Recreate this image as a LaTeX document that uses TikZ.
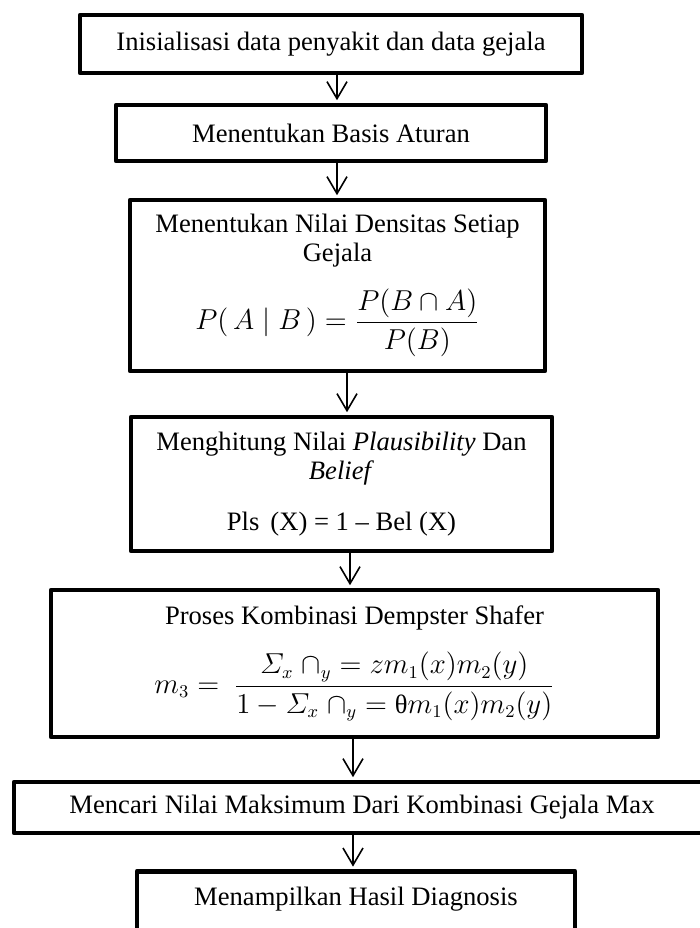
\documentclass[tikz,border=0pt]{standalone}
\usepackage{amsmath}
\usepackage{fontspec}
\setmainfont{Liberation Serif}
\usetikzlibrary{arrows.meta}

\begin{document}
\begin{tikzpicture}[x=0.5pt,y=-0.5pt]
\tikzset{
    box/.style={draw, line width=2.4pt, line join=round, align=center,
        inner sep=0pt, font=\fontsize{13.3}{14.3}\selectfont},
    flow/.style={-{Straight Barb[length=8.5pt,width=10pt]}, line width=0.8pt,
        shorten >=1.2pt}}

\useasboundingbox (0,0) rectangle (700,928);
\clip (0,0) rectangle (700,928);

\node[box, minimum width=251pt, minimum height=29pt] (b1) at (331,44)
    {Inisialisasi data penyakit dan data gejala};
\node[box, minimum width=215pt, minimum height=28pt] (b2) at (331,133)
    {Menentukan Basis Aturan};
\node[box, minimum width=207.5pt, minimum height=85.5pt] (b3) at (337.5,285.5)
    {Menentukan Nilai Densitas Setiap\\ Gejala\\[10pt]
     $P(\,A \mid B\,) = \dfrac{P(B\cap A)}{P(B)}$};
\node[box, minimum width=210.5pt, minimum height=67pt] (b4) at (341.5,484)
    {Menghitung Nilai \textit{Plausibility} Dan\\ \textit{Belief}\\[11pt]
     Pls\,\ (X) = 1 – Bel (X)};
\node[box, minimum width=303.5pt, minimum height=73.5pt] (b5) at (354.5,663.5)
    {Proses Kombinasi Dempster Shafer\\[10pt]
     $m_3 =\ \dfrac{\varSigma_x\;\cap_y = z m_1(x) m_2(y)}
        {1 - \varSigma_x\;\cap_y = \textup{θ} m_1(x) m_2(y)}$};
\node[box, minimum width=348pt, minimum height=25.5pt] (b6) at (362,807.5)
    {Mencari Nilai Maksimum Dari Kombinasi Gejala Max};
\node[box, anchor=north, minimum width=219pt, text height=17pt, text depth=30pt]
    (b7) at (356,869) {Menampilkan Hasil Diagnosis};

\foreach \src/\dst/\dx in {b1/b2/3, b2/b3/3, b3/b4/4.75, b4/b5/4.25, b5/b6/-0.75, b6/b7/-4.5}{
    \draw[flow] ([xshift=\dx pt]\src.south) -- ([xshift=\dx pt]\src.south |- \dst.north);
}
\end{tikzpicture}
\end{document}
